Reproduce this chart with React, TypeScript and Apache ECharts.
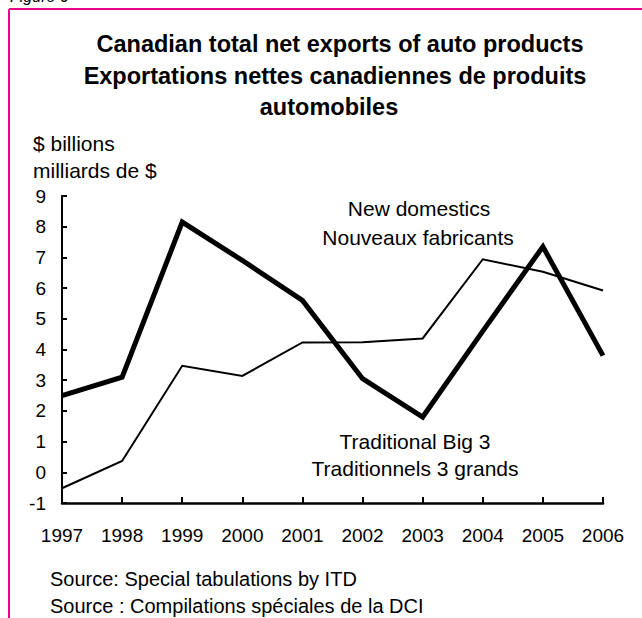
import React, { useEffect, useRef } from "react";
import * as echarts from "echarts";

const years = ["1997", "1998", "1999", "2000", "2001", "2002", "2003", "2004", "2005", "2006"];
const traditionalBig3 = [2.5, 3.1, 8.15, 6.9, 5.6, 3.05, 1.8, 4.6, 7.35, 3.8];
const newDomestics = [-0.52, 0.37, 3.47, 3.14, 4.23, 4.24, 4.36, 6.94, 6.53, 5.92];

const titleLines = [
  "Canadian total net exports of auto products",
  "Exportations nettes canadiennes de produits",
  "automobiles",
];
const unitLines = ["$ billions", "milliards de $"];
const newLabel = ["New domestics", "Nouveaux fabricants"];
const big3Label = ["Traditional Big 3", "Traditionnels 3 grands"];
const sourceLines = ["Source: Special tabulations by ITD", "Source : Compilations spéciales de la DCI"];

const FONT = "'Liberation Sans', Arial, Helvetica, sans-serif";
const PINK = "#ec008c";

export default function App() {
  const ref = useRef<HTMLDivElement>(null);

  useEffect(() => {
    if (!ref.current) return;
    const chart = echarts.init(ref.current, undefined, { renderer: "svg" });

    const text = (t: string, x: number, y: number, size: number, opts: any = {}) => ({
      type: "text",
      x,
      y,
      style: {
        text: t,
        fontSize: size,
        fontFamily: FONT,
        fill: "#000",
        textAlign: opts.align || "left",
        textVerticalAlign: opts.valign || "middle",
        fontWeight: opts.weight || "normal",
        fontStyle: opts.style || "normal",
      },
    });

    chart.setOption({
      animation: false,
      backgroundColor: "#fff",
      grid: { left: 62, right: 39, top: 196, bottom: 115, containLabel: false },
      xAxis: {
        type: "category",
        data: years,
        boundaryGap: false,
        axisLine: { onZero: false, lineStyle: { color: "#000", width: 2.5 } },
        axisTick: { inside: true, length: 6, lineStyle: { color: "#000", width: 2 } },
        axisLabel: { color: "#000", fontSize: 19, fontFamily: FONT, margin: 23 },
        splitLine: { show: false },
      },
      yAxis: {
        type: "value",
        min: -1,
        max: 9,
        interval: 1,
        axisLine: { show: true, onZero: false, lineStyle: { color: "#000", width: 2 } },
        axisTick: { show: true, inside: true, length: 5, lineStyle: { color: "#000", width: 2 } },
        axisLabel: { color: "#000", fontSize: 19, fontFamily: FONT, margin: 16 },
        splitLine: { show: false },
      },
      series: [
        {
          name: "Traditional Big 3",
          type: "line",
          data: traditionalBig3,
          symbol: "none",
          lineStyle: { color: "#000", width: 5, join: "miter" },
          z: 3,
        },
        {
          name: "New domestics",
          type: "line",
          data: newDomestics,
          symbol: "none",
          lineStyle: { color: "#000", width: 2, join: "miter" },
          z: 2,
        },
      ],
      graphic: [
        { type: "line", shape: { x1: 9, y1: 9, x2: 642, y2: 9 }, style: { stroke: PINK, lineWidth: 2 } },
        { type: "line", shape: { x1: 9, y1: 9, x2: 9, y2: 618 }, style: { stroke: PINK, lineWidth: 2 } },
        text("Figure 6", 10, 4, 16, { valign: "bottom", style: "italic" }),
        text(titleLines[0], 340, 44, 23.5, { align: "center", weight: "bold" }),
        text(titleLines[1], 335, 76, 23.5, { align: "center", weight: "bold" }),
        text(titleLines[2], 329, 107, 23.5, { align: "center", weight: "bold" }),
        text(unitLines[0], 33, 143, 21),
        text(unitLines[1], 33, 170, 21),
        text(newLabel[0], 419, 208, 21, { align: "center" }),
        text(newLabel[1], 418, 237, 21, { align: "center" }),
        text(big3Label[0], 415, 441, 21, { align: "center" }),
        text(big3Label[1], 415, 468, 21, { align: "center" }),
        text(sourceLines[0], 50, 579, 20),
        text(sourceLines[1], 50, 606, 20),
      ],
    });

    return () => chart.dispose();
  }, []);

  return (
    <div
      ref={ref}
      style={{ position: "fixed", left: 0, top: 0, width: 642, height: 618, background: "#fff" }}
    />
  );
}
